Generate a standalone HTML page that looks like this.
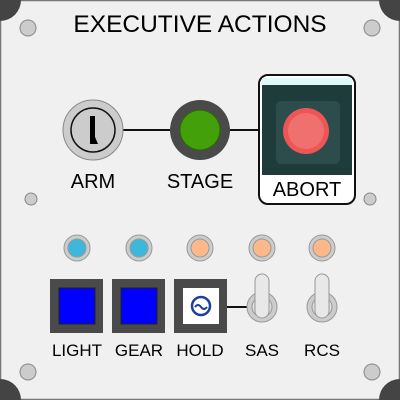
<!DOCTYPE html><html><head><style>html,body{margin:0;padding:0;width:400px;height:400px;overflow:hidden;background:#fff}svg{display:block}text{font-family:"Liberation Sans",sans-serif}</style></head><body>
<svg width="400" height="400" viewBox="0 0 400 400">
<rect x="0.5" y="0.5" width="399" height="399" fill="#f0f0f0" stroke="#777" stroke-width="1.5"/>
<circle cx="0" cy="0" r="21" fill="#444"/><circle cx="400" cy="0" r="21" fill="#444"/><circle cx="0" cy="400" r="21" fill="#444"/><circle cx="400" cy="400" r="21" fill="#444"/>
<g fill="#ccc" stroke="#888"><circle cx="28" cy="28" r="8"/><circle cx="372" cy="28" r="8"/><circle cx="28" cy="372" r="8"/><circle cx="372" cy="372" r="8"/><circle cx="31" cy="199" r="6"/><circle cx="370" cy="199" r="6"/></g>
<text x="200" y="32" font-size="24.5" text-anchor="middle">EXECUTIVE ACTIONS</text>
<line x1="120" y1="130" x2="180" y2="130" stroke="#111" stroke-width="2"/>
<line x1="225" y1="130" x2="262" y2="130" stroke="#111" stroke-width="2"/>
<circle cx="93" cy="130" r="30" fill="#ccc" stroke="#888"/>
<circle cx="93" cy="130" r="22" fill="#ccc" stroke="#111" stroke-width="1.5"/>
<path d="M90 116h5v21l3 7h-8z" fill="#000"/>
<circle cx="200" cy="130" r="30" fill="#4a4a4a"/><circle cx="200" cy="130" r="20" fill="#44a00a" stroke="#2a6a00"/>
<rect x="259" y="75" width="96" height="129" rx="9" fill="#fff" stroke="#111" stroke-width="2"/>
<rect x="262" y="78" width="90" height="97" fill="#1e3c3c"/>
<rect x="262" y="78" width="90" height="7" fill="#dff8f8"/>
<rect x="276" y="101" width="64" height="63" rx="5" fill="#2d4d4d"/>
<circle cx="306" cy="131" r="23" fill="#ee5555"/><circle cx="306" cy="131" r="18" fill="#f07070"/>
<text x="93" y="188" font-size="20" text-anchor="middle">ARM</text>
<text x="200" y="188" font-size="20" text-anchor="middle">STAGE</text>
<text x="307" y="196" font-size="20" text-anchor="middle">ABORT</text>
<g stroke="#999" stroke-width="1">
<circle cx="77" cy="248" r="13" fill="#ccc"/><circle cx="77" cy="248" r="9" fill="#3bb8dc"/>
<circle cx="139" cy="248" r="13" fill="#ccc"/><circle cx="139" cy="248" r="9" fill="#3bb8dc"/>
<circle cx="200" cy="248" r="13" fill="#ccc"/><circle cx="200" cy="248" r="9" fill="#fdb88a"/>
<circle cx="262" cy="248" r="13" fill="#ccc"/><circle cx="262" cy="248" r="9" fill="#fdb88a"/>
<circle cx="322" cy="248" r="13" fill="#ccc"/><circle cx="322" cy="248" r="9" fill="#fdb88a"/>
</g>
<line x1="226" y1="307" x2="250" y2="307" stroke="#111" stroke-width="2"/>
<rect x="50" y="279" width="53" height="54" fill="#4a4a4a"/><rect x="59" y="288" width="36" height="36" fill="#0000ff" stroke="#222"/>
<rect x="112" y="279" width="53" height="54" fill="#4a4a4a"/><rect x="121" y="288" width="36" height="36" fill="#0000ff" stroke="#222"/>
<rect x="174" y="279" width="53" height="54" fill="#4a4a4a"/><rect x="183" y="288" width="36" height="36" fill="#fff"/>
<circle cx="201" cy="306" r="9" fill="none" stroke="#1d3f9a" stroke-width="2.5"/>
<path d="M195 307q3-4 6 0t6 0" fill="none" stroke="#1d3f9a" stroke-width="2"/>
<g stroke="#999"><circle cx="262" cy="307" r="15" fill="#ccc"/><circle cx="262" cy="307" r="10" fill="#ddd"/>
<rect x="255" y="274" width="14" height="44" rx="7" fill="#e8e8e8"/>
<circle cx="322" cy="307" r="15" fill="#ccc"/><circle cx="322" cy="307" r="10" fill="#ddd"/>
<rect x="315" y="274" width="14" height="44" rx="7" fill="#e8e8e8"/></g>
<g font-size="17" text-anchor="middle"><text x="77" y="356">LIGHT</text><text x="139" y="356">GEAR</text><text x="200" y="356">HOLD</text><text x="262" y="356">SAS</text><text x="322" y="356">RCS</text></g>
</svg></body></html>
